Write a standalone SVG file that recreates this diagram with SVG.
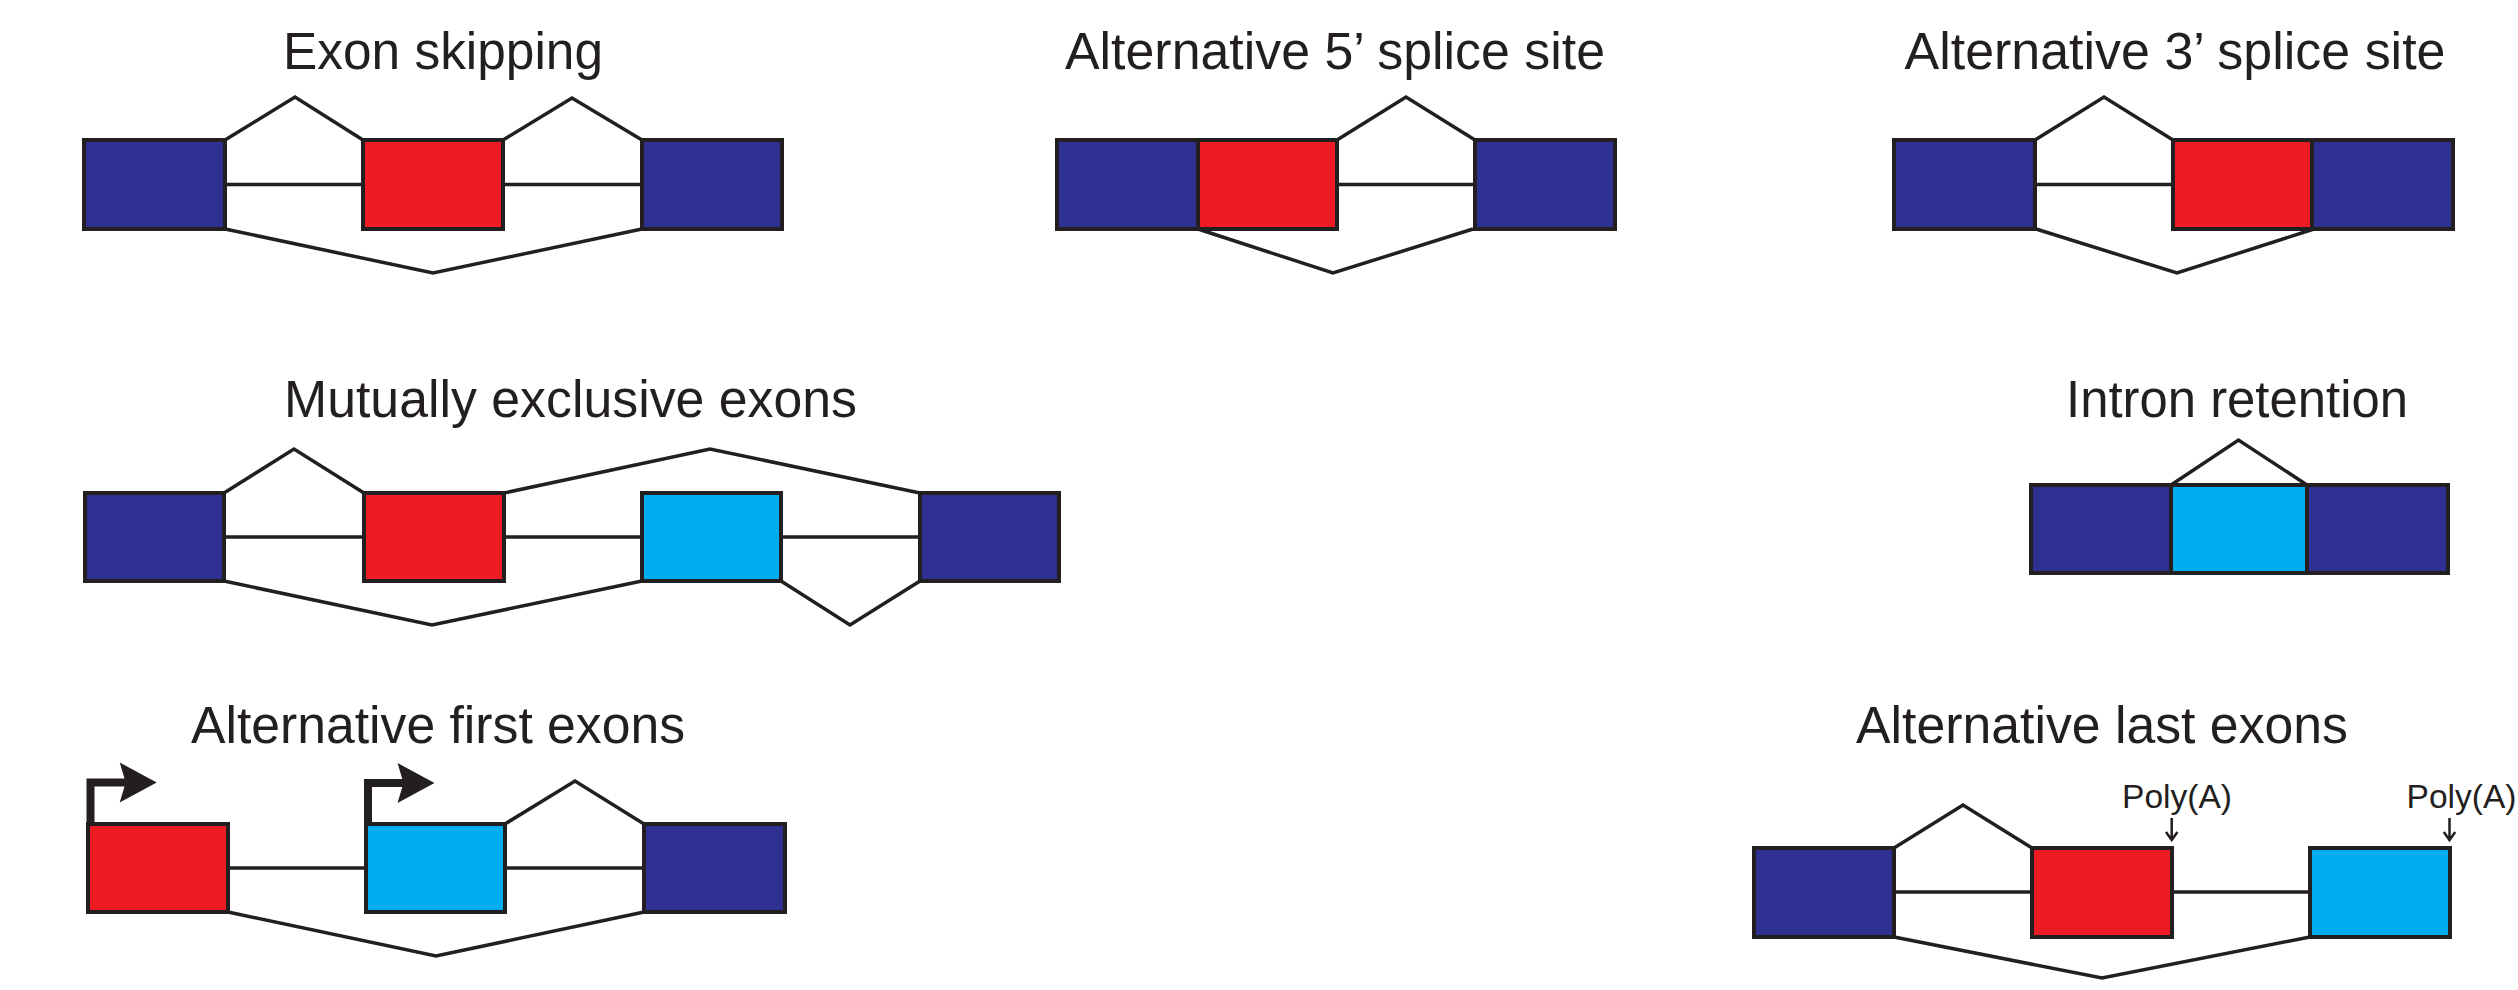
<svg xmlns="http://www.w3.org/2000/svg" xmlns:xlink="http://www.w3.org/1999/xlink" width="2518" height="990" viewBox="0 0 2518 990">
<style>
.title{font-family:"Liberation Sans",Arial,Helvetica,sans-serif;font-size:51px;fill:#231F20;text-anchor:middle}
.poly{font-family:"Liberation Sans",Arial,Helvetica,sans-serif;font-size:33px;fill:#231F20;text-anchor:middle}
.ex{stroke:#231F20;stroke-width:4}
.const{fill:#2E3192}
.alt1{fill:#ED1C24}
.alt2{fill:#00AEEF}
.conn{fill:none;stroke:#231F20;stroke-width:3.5;stroke-linejoin:miter}
.tss{fill:none;stroke:#231F20;stroke-width:8;stroke-linejoin:miter}
.pa{fill:none;stroke:#231F20;stroke-width:2.5}
</style>
<defs>
<path id="head" d="M-37,-20 L0,0 L-37,20 L-31,0 Z" fill="#231F20"/>
</defs>
<rect width="2518" height="990" fill="#FFFFFF"/>

<!-- Panel 1: Exon skipping -->
<g id="exon-skipping">
<text class="title" x="443" y="69" textLength="320" lengthAdjust="spacingAndGlyphs">Exon skipping</text>
<g id="p1-connectors">
<polyline class="conn" points="225,184.5 363,184.5"/>
<polyline class="conn" points="503,184.5 642,184.5"/>
<polyline class="conn" points="225,140 295,97 363,140"/>
<polyline class="conn" points="503,140 572,98 642,140"/>
<polyline class="conn" points="225,229 433,273 642,229"/>
</g>
<g id="p1-exon1"><rect class="ex const" x="84" y="140" width="141" height="89"/></g>
<g id="p1-exon2"><rect class="ex alt1" x="363" y="140" width="140" height="89"/></g>
<g id="p1-exon3"><rect class="ex const" x="642" y="140" width="140" height="89"/></g>
</g>

<!-- Panel 2: Alternative 5' splice site -->
<g id="alt-5-splice">
<text class="title" x="1335" y="69" textLength="540" lengthAdjust="spacingAndGlyphs">Alternative 5’ splice site</text>
<g id="p2-connectors">
<polyline class="conn" points="1337,184.5 1475,184.5"/>
<polyline class="conn" points="1337,140 1406,97 1475,140"/>
<polyline class="conn" points="1198,229 1333,273 1473,229"/>
</g>
<g id="p2-exon1"><rect class="ex const" x="1057" y="140" width="141" height="89"/></g>
<g id="p2-exon2"><rect class="ex alt1" x="1198" y="140" width="139" height="89"/></g>
<g id="p2-exon3"><rect class="ex const" x="1475" y="140" width="140" height="89"/></g>
</g>

<!-- Panel 3: Alternative 3' splice site -->
<g id="alt-3-splice">
<text class="title" x="2175" y="69" textLength="541" lengthAdjust="spacingAndGlyphs">Alternative 3’ splice site</text>
<g id="p3-connectors">
<polyline class="conn" points="2035,184.5 2173,184.5"/>
<polyline class="conn" points="2035,140 2104,97 2173,140"/>
<polyline class="conn" points="2036,229 2177,273 2314,229"/>
</g>
<g id="p3-exon1"><rect class="ex const" x="1894" y="140" width="141" height="89"/></g>
<g id="p3-exon2"><rect class="ex alt1" x="2173" y="140" width="139" height="89"/></g>
<g id="p3-exon3"><rect class="ex const" x="2312" y="140" width="141" height="89"/></g>
</g>

<!-- Panel 4: Mutually exclusive exons -->
<g id="mutually-exclusive">
<text class="title" x="570.5" y="417" textLength="573" lengthAdjust="spacingAndGlyphs">Mutually exclusive exons</text>
<g id="p4-connectors">
<polyline class="conn" points="224,537 364,537"/>
<polyline class="conn" points="504,537 642,537"/>
<polyline class="conn" points="781,537 920,537"/>
<polyline class="conn" points="224,493 294,449 364,493"/>
<polyline class="conn" points="504,493 710,449 920,493"/>
<polyline class="conn" points="224,581 432,625 642,581"/>
<polyline class="conn" points="781,581 850,625 920,581"/>
</g>
<g id="p4-exon1"><rect class="ex const" x="85" y="493" width="139" height="88"/></g>
<g id="p4-exon2"><rect class="ex alt1" x="364" y="493" width="140" height="88"/></g>
<g id="p4-exon3"><rect class="ex alt2" x="642" y="493" width="139" height="88"/></g>
<g id="p4-exon4"><rect class="ex const" x="920" y="493" width="139" height="88"/></g>
</g>

<!-- Panel 5: Intron retention -->
<g id="intron-retention">
<text class="title" x="2237" y="417" textLength="342" lengthAdjust="spacingAndGlyphs">Intron retention</text>
<g id="p5-connectors">
<polyline class="conn" points="2171,485 2238.5,440 2307,485"/>
</g>
<g id="p5-exon1"><rect class="ex const" x="2031" y="485" width="140" height="88"/></g>
<g id="p5-intron"><rect class="ex alt2" x="2171" y="485" width="136" height="88"/></g>
<g id="p5-exon2"><rect class="ex const" x="2307" y="485" width="141" height="88"/></g>
</g>

<!-- Panel 6: Alternative first exons -->
<g id="alt-first-exons">
<text class="title" x="438" y="743" textLength="494" lengthAdjust="spacingAndGlyphs">Alternative first exons</text>
<g id="p6-connectors">
<polyline class="conn" points="228,868 366,868"/>
<polyline class="conn" points="505,868 644,868"/>
<polyline class="conn" points="505,824 575,781 644,824"/>
<polyline class="conn" points="228,912 436,956 644,912"/>
</g>
<g id="p6-tss1">
<path class="tss" d="M90.5,826 V782.5 H126"/>
<use xlink:href="#head" href="#head" transform="translate(156.7,782.5)"/>
</g>
<g id="p6-tss2">
<path class="tss" d="M368,826 V783 H405"/>
<use xlink:href="#head" href="#head" transform="translate(434.5,783)"/>
</g>
<g id="p6-exon1"><rect class="ex alt1" x="88" y="824" width="140" height="88"/></g>
<g id="p6-exon2"><rect class="ex alt2" x="366" y="824" width="139" height="88"/></g>
<g id="p6-exon3"><rect class="ex const" x="644" y="824" width="141" height="88"/></g>
</g>

<!-- Panel 7: Alternative last exons -->
<g id="alt-last-exons">
<text class="title" x="2102" y="743" textLength="492" lengthAdjust="spacingAndGlyphs">Alternative last exons</text>
<g id="p7-connectors">
<polyline class="conn" points="1894,892 2032,892"/>
<polyline class="conn" points="2172,892 2310,892"/>
<polyline class="conn" points="1894,848 1963,805 2032,848"/>
<polyline class="conn" points="1894,937 2102,978 2310,937"/>
</g>
<g id="p7-exon1"><rect class="ex const" x="1754" y="848" width="140" height="89"/></g>
<g id="p7-exon2"><rect class="ex alt1" x="2032" y="848" width="140" height="89"/></g>
<g id="p7-exon3"><rect class="ex alt2" x="2310" y="848" width="140" height="89"/></g>
<g id="p7-polya1">
<text class="poly" x="2177" y="808" textLength="110" lengthAdjust="spacingAndGlyphs">Poly(A)</text>
<path class="pa" d="M2171.7,818 V840 M2166,832 L2171.7,840 L2177.4,832"/>
</g>
<g id="p7-polya2">
<text class="poly" x="2461.5" y="808" textLength="110" lengthAdjust="spacingAndGlyphs">Poly(A)</text>
<path class="pa" d="M2449.5,818 V840 M2443.8,832 L2449.5,840 L2455.2,832"/>
</g>
</g>
</svg>
